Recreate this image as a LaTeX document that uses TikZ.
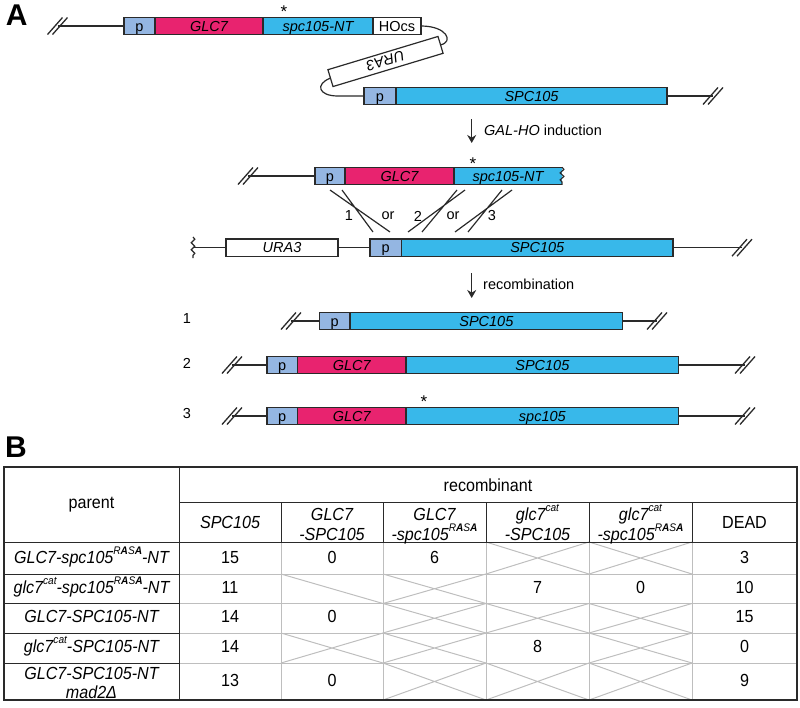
\documentclass[tikz,border=0pt]{standalone}
\usepackage{fontspec}
\setmainfont{Liberation Sans}
\newfontfamily\tabfont[FakeStretch=0.92]{Liberation Sans}
\usetikzlibrary{positioning,arrows.meta,decorations.pathmorphing}

\definecolor{pblue}{HTML}{94B6E2}
\definecolor{glcpink}{HTML}{E8236F}
\definecolor{spcblue}{HTML}{38B8EA}
\definecolor{linecol}{HTML}{2A2A2A}
\definecolor{gridgray}{HTML}{BEBEBE}

\newcommand{\supr}[1]{\raisebox{0.5em}{\fontsize{11}{11}\selectfont #1}}
\newcommand{\rasa}{\supr{R\textbf{A}S\textbf{A}}}
\newcommand{\nocell}[4]{\draw[tabgray] (#1,#2) -- (#3,#4) (#1,#4) -- (#3,#2);}

\tikzset{
  dna/.style={draw=linecol, line width=1.2pt},
  part/.style={dna, inner sep=0pt, outer sep=0pt, minimum height=17.6pt, text height=10.4pt, text depth=0pt, font=\fontsize{14.5}{17}\selectfont},
  pbox/.style={part, fill=pblue},
  glcbox/.style={part, fill=glcpink, font=\fontsize{14.5}{17}\selectfont\itshape},
  spcbox/.style={part, fill=spcblue, font=\fontsize{14.5}{17}\selectfont\itshape},
  spcfill/.style={spcbox, draw=none},
  whitebox/.style={part, fill=white},
  urabox/.style={whitebox, font=\fontsize{14.5}{17}\selectfont\itshape},
  lbl/.style={font=\fontsize{14.5}{17}\selectfont, inner sep=0pt},
  starlbl/.style={font=\fontsize{17}{17}\selectfont, inner sep=0pt},
  panel/.style={font=\fontsize{30}{30}\selectfont\bfseries, inner sep=0pt},
  brk/.pic={\draw[dna, line width=1.3pt] (-10,8.5) -- (5,-8.5) (-5,8.5) -- (10,-8.5);},
  wavy/.style={decorate, decoration={snake, segment length=7pt, amplitude=1.8pt}},
  arr/.style={dna, -{Stealth[length=8pt,width=9pt]}},
  tabgray/.style={draw=gridgray, line width=1pt},
  tabdark/.style={draw=linecol, line width=1pt},
  tabtxt/.style={font=\tabfont\fontsize{17.5}{21}\selectfont, inner sep=0pt, anchor=base},
  tabit/.style={tabtxt, font=\tabfont\fontsize{17.5}{21}\selectfont\itshape},
}

\begin{document}
\begin{tikzpicture}[x=1pt, y=-1pt]
	\useasboundingbox (0,0) rectangle (800,707);
	\pgfmathsetmacro{\ya}{26}
	\pgfmathsetmacro{\yb}{96}
	\pgfmathsetmacro{\yc}{176}
	\pgfmathsetmacro{\yd}{247.7}
	\pgfmathsetmacro{\yr}{321}
	\pgfmathsetmacro{\ys}{365}
	\pgfmathsetmacro{\yt}{416}

	\node[panel] (pA) at (16.7,14.7) {A};
	\node[panel] (pB) at (16,447) {B};

	%construct with HOcs and URA3
	\coordinate (brka) at (57.5,\ya);
	\node[pbox, minimum width=31pt, anchor=west] (pa) at (124,\ya) {p};
	\node[glcbox, minimum width=108pt, right=0pt of pa] (glca) {GLC7};
	\node[spcbox, minimum width=110pt, right=0pt of glca] (snta) {spc105-NT};
	\node[whitebox, minimum width=48pt, right=0pt of snta] (hocs) {HOcs};
	\node[starlbl] (stara) at (284,12) {*};
	\node[urabox, minimum width=115pt, rotate=196.8] (uraa) at (385.5,61.5) {URA3};
	\pic at (brka) {brk};
	\draw[dna] (brka) -- (pa.west);
	\draw[dna] (hocs.east) .. controls (447,26) and (454,42) .. (uraa.west);

	\coordinate (loopb) at (338,\yb);
	\node[pbox, minimum width=32pt, anchor=west] (pb) at (364,\yb) {p};
	\node[spcbox, minimum width=271pt, right=0pt of pb] (spcb) {SPC105};
	\coordinate (brkb) at (713,\yb);
	\draw[dna] (uraa.east) .. controls (315,84) and (318,\yb) .. (loopb) -- (pb.west);
	\draw[dna] (spcb.east) -- (brkb);
	\pic at (brkb) {brk};

	\coordinate (arra) at (471.7,119);
	\coordinate (arrb) at (471.7,143);
	\draw[arr] (arra) -- (arrb);
	\node[lbl, anchor=west] (ind) at (484,130) {\textit{GAL-HO} induction};

	%cut construct
	\coordinate (brkc) at (248,\yc);
	\node[pbox, minimum width=30pt, anchor=west] (pc) at (315,\yc) {p};
	\node[glcbox, minimum width=109pt, right=0pt of pc] (glcc) {GLC7};
	\node[spcfill, minimum width=108pt, right=0pt of glcc] (sntc) {spc105-NT};
	\draw[dna] (sntc.north east) -- (sntc.north west) -- (sntc.south west) -- (sntc.south east);
	\draw[dna, wavy] (sntc.north east) -- (sntc.south east);
	\node[starlbl] (starc) at (473,164) {*};
	\pic at (brkc) {brk};
	\draw[dna] (brkc) -- (pc.west);

	%crossover lines
	\draw[dna] (330,190) -- (390,232) (342,190) -- (373,232);
	\draw[dna] (465,190) -- (408,232) (457,190) -- (422,232);
	\draw[dna] (512,190) -- (455,232) (502,190) -- (468,232);
	\node[lbl] (xo1) at (349,216) {1};
	\node[lbl] (xor1) at (388,216) {or};
	\node[lbl] (xo2) at (418,216) {2};
	\node[lbl] (xor2) at (453,216) {or};
	\node[lbl] (xo3) at (492,216) {3};

	%URA3 and SPC105 locus
	\coordinate (wavd) at (193,\yd);
	\node[urabox, minimum width=112pt, anchor=west] (urad) at (226,\yd) {URA3};
	\node[pbox, minimum width=31.5pt, anchor=west] (pd) at (370,\yd) {p};
	\node[spcbox, minimum width=271.5pt, right=0pt of pd] (spcd) {SPC105};
	\coordinate (brkd) at (742,\yd);
	\draw[dna, wavy] (193,237) -- (193,258);
	\draw[dna] (wavd) -- (urad.west);
	\draw[dna] (urad.east) -- (pd.west);
	\draw[dna] (spcd.east) -- (brkd);
	\pic at (brkd) {brk};

	\coordinate (arrc) at (471.7,273);
	\coordinate (arrd) at (471.7,298);
	\draw[arr] (arrc) -- (arrd);
	\node[lbl, anchor=west] (recn) at (483,284) {recombination};

	%recombinants
	\node[lbl] (n1) at (187,319) {1};
	\coordinate (brkr) at (291,\yr);
	\node[pbox, minimum width=30.7pt, anchor=west] (pr) at (319.3,\yr) {p};
	\node[spcbox, minimum width=272.7pt, right=0pt of pr] (spcr) {SPC105};
	\coordinate (brkre) at (657,\yr);
	\draw[dna] (brkr) -- (pr.west);
	\draw[dna] (spcr.east) -- (brkre);
	\pic at (brkr) {brk};
	\pic at (brkre) {brk};

	\node[lbl] (n2) at (187,363) {2};
	\coordinate (brks) at (232,\ys);
	\node[pbox, minimum width=30.5pt, anchor=west] (ps) at (267,\ys) {p};
	\node[glcbox, minimum width=108.5pt, right=0pt of ps] (glcs) {GLC7};
	\node[spcbox, minimum width=272.7pt, right=0pt of glcs] (spcs) {SPC105};
	\coordinate (brkse) at (745,\ys);
	\draw[dna] (brks) -- (ps.west);
	\draw[dna] (spcs.east) -- (brkse);
	\pic at (brks) {brk};
	\pic at (brkse) {brk};

	\node[lbl] (n3) at (187,414) {3};
	\coordinate (brkt) at (232,\yt);
	\node[pbox, minimum width=30.5pt, anchor=west] (pt) at (267,\yt) {p};
	\node[glcbox, minimum width=108.5pt, right=0pt of pt] (glct) {GLC7};
	\node[spcbox, minimum width=272.7pt, right=0pt of glct] (spct) {spc105};
	\node[starlbl] (start) at (424,402) {*};
	\coordinate (brkte) at (745,\yt);
	\draw[dna] (brkt) -- (pt.west);
	\draw[dna] (spct.east) -- (brkte);
	\pic at (brkt) {brk};
	\pic at (brkte) {brk};

	%table grid
	\draw[tabgray] (179,574) -- (797,574);
	\draw[tabgray] (179,603.5) -- (797,603.5);
	\draw[tabgray] (179,633) -- (797,633);
	\draw[tabgray] (179,663) -- (797,663);
	\draw[tabgray] (281,542) -- (281,700);
	\draw[tabgray] (383,542) -- (383,700);
	\draw[tabgray] (486,542) -- (486,700);
	\draw[tabgray] (589,542) -- (589,700);
	\draw[tabgray] (692,542) -- (692,700);

	%crossed cells
	\nocell{486}{542}{589}{574} \nocell{589}{542}{692}{574}
	\draw[tabgray] (281,574) -- (383,603.5);
	\nocell{383}{574}{486}{603.5}
	\nocell{383}{603.5}{486}{633} \nocell{486}{603.5}{589}{633} \nocell{589}{603.5}{692}{633}
	\nocell{281}{633}{383}{663} \nocell{383}{633}{486}{663} \nocell{589}{633}{692}{663}
	\nocell{383}{663}{486}{700} \nocell{486}{663}{589}{700} \nocell{589}{663}{692}{700}

	\draw[tabdark] (179,467) -- (179,700);
	\draw[tabdark] (179,502) -- (797,502);
	\draw[tabdark] (4,542) -- (797,542);
	\draw[tabdark] (281,502) -- (281,542);
	\draw[tabdark] (383,502) -- (383,542);
	\draw[tabdark] (486,502) -- (486,542);
	\draw[tabdark] (589,502) -- (589,542);
	\draw[tabdark] (692,502) -- (692,542);
	\draw[tabdark] (4,574) -- (179,574);
	\draw[tabdark] (4,603.5) -- (179,603.5);
	\draw[tabdark] (4,633) -- (179,633);
	\draw[tabdark] (4,663) -- (179,663);
	\draw[linecol, line width=1.6pt] (4,467) rectangle (797,700);

	%headers
	\node[tabtxt] (recomb) at (488,491) {recombinant};
	\node[tabtxt] (parent) at (91.5,508) {parent};
	\node[tabit] (hspc) at (230,528) {SPC105};
	\node[tabit] (hglca) at (332,520) {GLC7};
	\node[tabit] (hglcb) at (332,540) {-SPC105};
	\node[tabit] (hrasaa) at (434.5,520) {GLC7};
	\node[tabit] (hrasab) at (434.5,540) {-spc105\rasa};
	\node[tabit] (hcata) at (537.5,520) {glc7\supr{cat}};
	\node[tabit] (hcatb) at (537.5,540) {-SPC105};
	\node[tabit] (hcra) at (640.5,520) {glc7\supr{cat}};
	\node[tabit] (hcrb) at (640.5,540) {-spc105\rasa};
	\node[tabtxt] (hdead) at (744.5,528) {DEAD};

	%rows
	\node[tabit] (pr1) at (91.5,563) {GLC7-spc105\rasa-NT};
	\node[tabtxt] (r1a) at (230,563) {15};
	\node[tabtxt] (r1b) at (332,563) {0};
	\node[tabtxt] (r1c) at (434.5,563) {6};
	\node[tabtxt] (r1f) at (744.5,563) {3};

	\node[tabit] (pr2) at (91.5,593) {glc7\supr{cat}-spc105\rasa-NT};
	\node[tabtxt] (r2a) at (230,593) {11};
	\node[tabtxt] (r2d) at (537.5,593) {7};
	\node[tabtxt] (r2e) at (640.5,593) {0};
	\node[tabtxt] (r2f) at (744.5,593) {10};

	\node[tabit] (pr3) at (91.5,622.5) {GLC7-SPC105-NT};
	\node[tabtxt] (r3a) at (230,622.5) {14};
	\node[tabtxt] (r3b) at (332,622.5) {0};
	\node[tabtxt] (r3f) at (744.5,622.5) {15};

	\node[tabit] (pr4) at (91.5,652.5) {glc7\supr{cat}-SPC105-NT};
	\node[tabtxt] (r4a) at (230,652.5) {14};
	\node[tabtxt] (r4d) at (537.5,652.5) {8};
	\node[tabtxt] (r4f) at (744.5,652.5) {0};

	\node[tabit] (pr5a) at (91.5,679) {GLC7-SPC105-NT};
	\node[tabit] (pr5b) at (91.5,698) {mad2Δ};
	\node[tabtxt] (r5a) at (230,686) {13};
	\node[tabtxt] (r5b) at (332,686) {0};
	\node[tabtxt] (r5f) at (744.5,686) {9};
\end{tikzpicture}
\end{document}
